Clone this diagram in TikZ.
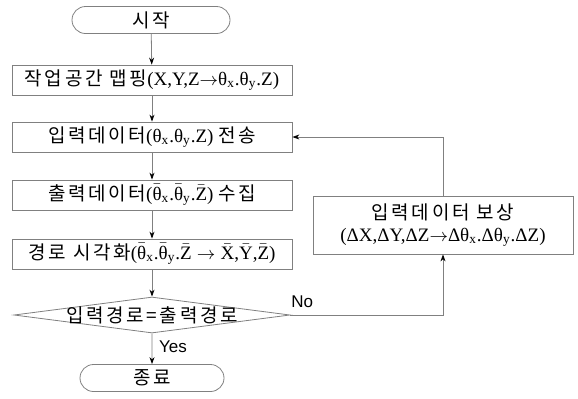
\documentclass[tikz,border=0pt]{standalone}
\usepackage{amsmath}
\usepackage{fontspec}
\setmainfont{Liberation Serif}
\newfontfamily\kr[LetterSpace=14]{Noto Sans CJK KR}
\newfontfamily\lsans{Liberation Sans}
\usetikzlibrary{shapes.geometric,shapes.misc,arrows.meta,positioning}
\newcommand{\tht}[1]{$\text{θ}_{\text{#1}}$}
\newcommand{\btht}[1]{$\bar{\text{θ}}_{\text{#1}}$}
\tikzset{
  stepbox/.style={draw=gray, rectangle, minimum width=140pt, minimum height=15pt, inner sep=1pt, font=\fontsize{9.5}{11}\selectfont},
  termbox/.style={draw=gray, rounded rectangle, minimum height=13.5pt, inner sep=1pt, font=\fontsize{9.5}{11}\selectfont},
  flow/.style={draw=gray, line width=0.4pt, -{Stealth[length=3.5pt,width=2.5pt,black]}},
}
\begin{document}
\begin{tikzpicture}[x=0.5pt,y=-0.5pt]
\useasboundingbox (0,0) rectangle (578,398);
\node[termbox, minimum width=81pt] (start) at (151,20) {\kr 시작};
\node[stepbox] (map) at (152,80) {{\kr 작업공간 맵핑}(X,Y,Z$\rightarrow$\tht{x}.\tht{y}.Z)};
\node[stepbox] (send) at (152,137) {{\kr 입력데이터}(\tht{x}.\tht{y}.Z) {\kr 전송}};
\node[stepbox] (recv) at (152,195) {{\kr 출력데이터}(\btht{x}.\btht{y}.$\bar{\text{Z}}$) {\kr 수집}};
\node[stepbox] (vis) at (152,254) {{\kr 경로 시각화}(\btht{x}.\btht{y}.$\bar{\text{Z}}\rightarrow\bar{\text{X}}$,$\bar{\text{Y}}$,$\bar{\text{Z}}$)};
\node[draw=gray, diamond, inner sep=0pt, minimum width=138pt, minimum height=18pt] (chk) at (152,315) {};
\node[font=\fontsize{9.5}{11}\selectfont, inner sep=0pt] (chktext) at (chk) {\kr 입력경로=출력경로};
\node[termbox, minimum width=74pt] (stop) at (152,378) {\kr 종료};
\node[stepbox, minimum width=130pt, minimum height=29pt, align=center] (fix) at (443,225) {{\kr 입력데이터 보상}\\(ΔX,ΔY,ΔZ$\rightarrow$Δ\tht{x}.Δ\tht{y}.ΔZ)};
\coordinate (noturn) at (fix.south |- chk.east);
\coordinate (backturn) at (fix.north |- send.east);
% main flow
\draw[flow] (start) -- (map);
\draw[flow] (map) -- (send);
\draw[flow] (send) -- (recv);
\draw[flow] (recv) -- (vis);
\draw[flow] (vis) -- (chk);
\draw[flow] (chk) -- node[right, font=\lsans\fontsize{8.5}{10}\selectfont, pos=0.45] {Yes} (stop);
% feedback
\draw[flow] (chk.east) -- node[anchor=south west, pos=0, xshift=-3pt, font=\lsans\fontsize{8.5}{10}\selectfont] {No} (noturn) -- (fix.south);
\draw[flow] (fix.north) -- (backturn) -- (send.east);
\end{tikzpicture}
\end{document}
